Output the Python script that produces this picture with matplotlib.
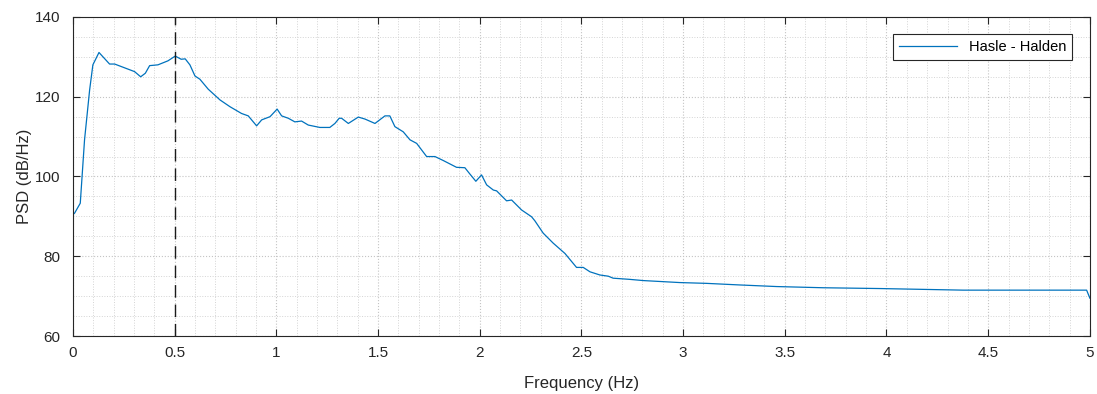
import matplotlib.pyplot as plt
import numpy as np
from matplotlib.ticker import MultipleLocator

plt.rcParams['font.family'] = ['Liberation Sans', 'DejaVu Sans']

# PSD trace
freq = [0.0, 0.008, 0.036, 0.057, 0.082, 0.098, 0.128, 0.18, 0.205, 0.303, 0.333,
        0.356, 0.377, 0.418, 0.467, 0.503, 0.532, 0.552, 0.575, 0.6, 0.624, 0.665,
        0.723, 0.772, 0.829, 0.862, 0.903, 0.928, 0.969, 1.004, 1.026, 1.059, 1.091,
        1.124, 1.157, 1.214, 1.263, 1.288, 1.309, 1.321, 1.354, 1.403, 1.436, 1.485,
        1.534, 1.558, 1.583, 1.624, 1.657, 1.69, 1.739, 1.78, 1.821, 1.886, 1.927,
        1.952, 1.981, 2.009, 2.034, 2.067, 2.083, 2.132, 2.157, 2.206, 2.255, 2.271,
        2.312, 2.361, 2.419, 2.476, 2.509, 2.542, 2.591, 2.632, 2.656, 2.738, 2.804,
        2.984, 3.115, 3.279, 3.46, 3.689, 3.968, 4.377, 4.984, 5.0]
psd = [90.5, 90.8, 93.3, 109.2, 121.7, 128.0, 131.1, 128.2, 128.2, 126.3, 125.0,
       125.9, 127.8, 128.0, 129.0, 130.2, 129.4, 129.5, 128.0, 125.2, 124.4, 121.9,
       119.2, 117.5, 115.8, 115.2, 112.7, 114.2, 115.0, 116.9, 115.2, 114.6, 113.7,
       113.9, 112.9, 112.3, 112.3, 113.3, 114.6, 114.6, 113.3, 114.9, 114.4, 113.3,
       115.2, 115.2, 112.5, 111.2, 109.2, 108.3, 105.0, 105.0, 104.0, 102.3, 102.2,
       100.6, 98.8, 100.4, 97.9, 96.6, 96.4, 93.9, 94.1, 91.6, 89.9, 88.9,
       85.8, 83.3, 80.7, 77.2, 77.2, 76.1, 75.3, 75.0, 74.5, 74.2, 73.9,
       73.4, 73.2, 72.8, 72.4, 72.1, 71.9, 71.5, 71.5, 69.5]
marker_freq = 0.5

fig = plt.figure(figsize=(10.97, 3.94), dpi=100)
ax = fig.add_axes([0.0665, 0.1472, 0.927, 0.8097])

ax.plot(freq, psd, color='#0072BD', lw=0.9, label='Hasle - Halden')
ax.axvline(marker_freq, color='#1a1a1a', lw=1.0, ls=(0, (9, 5)))

ax.set_xlim(0, 5)
ax.set_ylim(60, 140)
ax.xaxis.set_major_locator(MultipleLocator(0.5))
ax.xaxis.set_minor_locator(MultipleLocator(0.1))
ax.yaxis.set_major_locator(MultipleLocator(20))
ax.yaxis.set_minor_locator(MultipleLocator(5))
ax.set_xticks(np.arange(0, 5.01, 0.5))
ax.set_xticklabels(['0', '0.5', '1', '1.5', '2', '2.5', '3', '3.5', '4', '4.5', '5'])

ax.grid(which='major', color='#c4c4c4', ls=':', lw=0.8)
ax.grid(which='minor', color='#d4d4d4', ls=':', lw=0.7)
ax.set_axisbelow(True)

ax.tick_params(which='major', direction='in', length=5, top=True, right=True,
               labelsize=11, colors='#262626', width=0.8)
ax.tick_params(axis='x', which='major', pad=7)
ax.tick_params(axis='y', which='major', pad=9)
ax.tick_params(which='minor', length=0)
for s in ax.spines.values():
    s.set_color('#262626')
    s.set_linewidth(0.8)

ax.set_xlabel('Frequency (Hz)', fontsize=12, color='#262626', labelpad=12)
ax.set_ylabel('PSD (dB/Hz)', fontsize=12, color='#262626', labelpad=2)

leg = ax.legend(loc='upper right', fontsize=10.5, fancybox=False, framealpha=1,
                edgecolor='#262626', handlelength=4.0, borderaxespad=1.2)
leg.get_frame().set_linewidth(0.8)

fig.savefig('out.png', dpi=100)
